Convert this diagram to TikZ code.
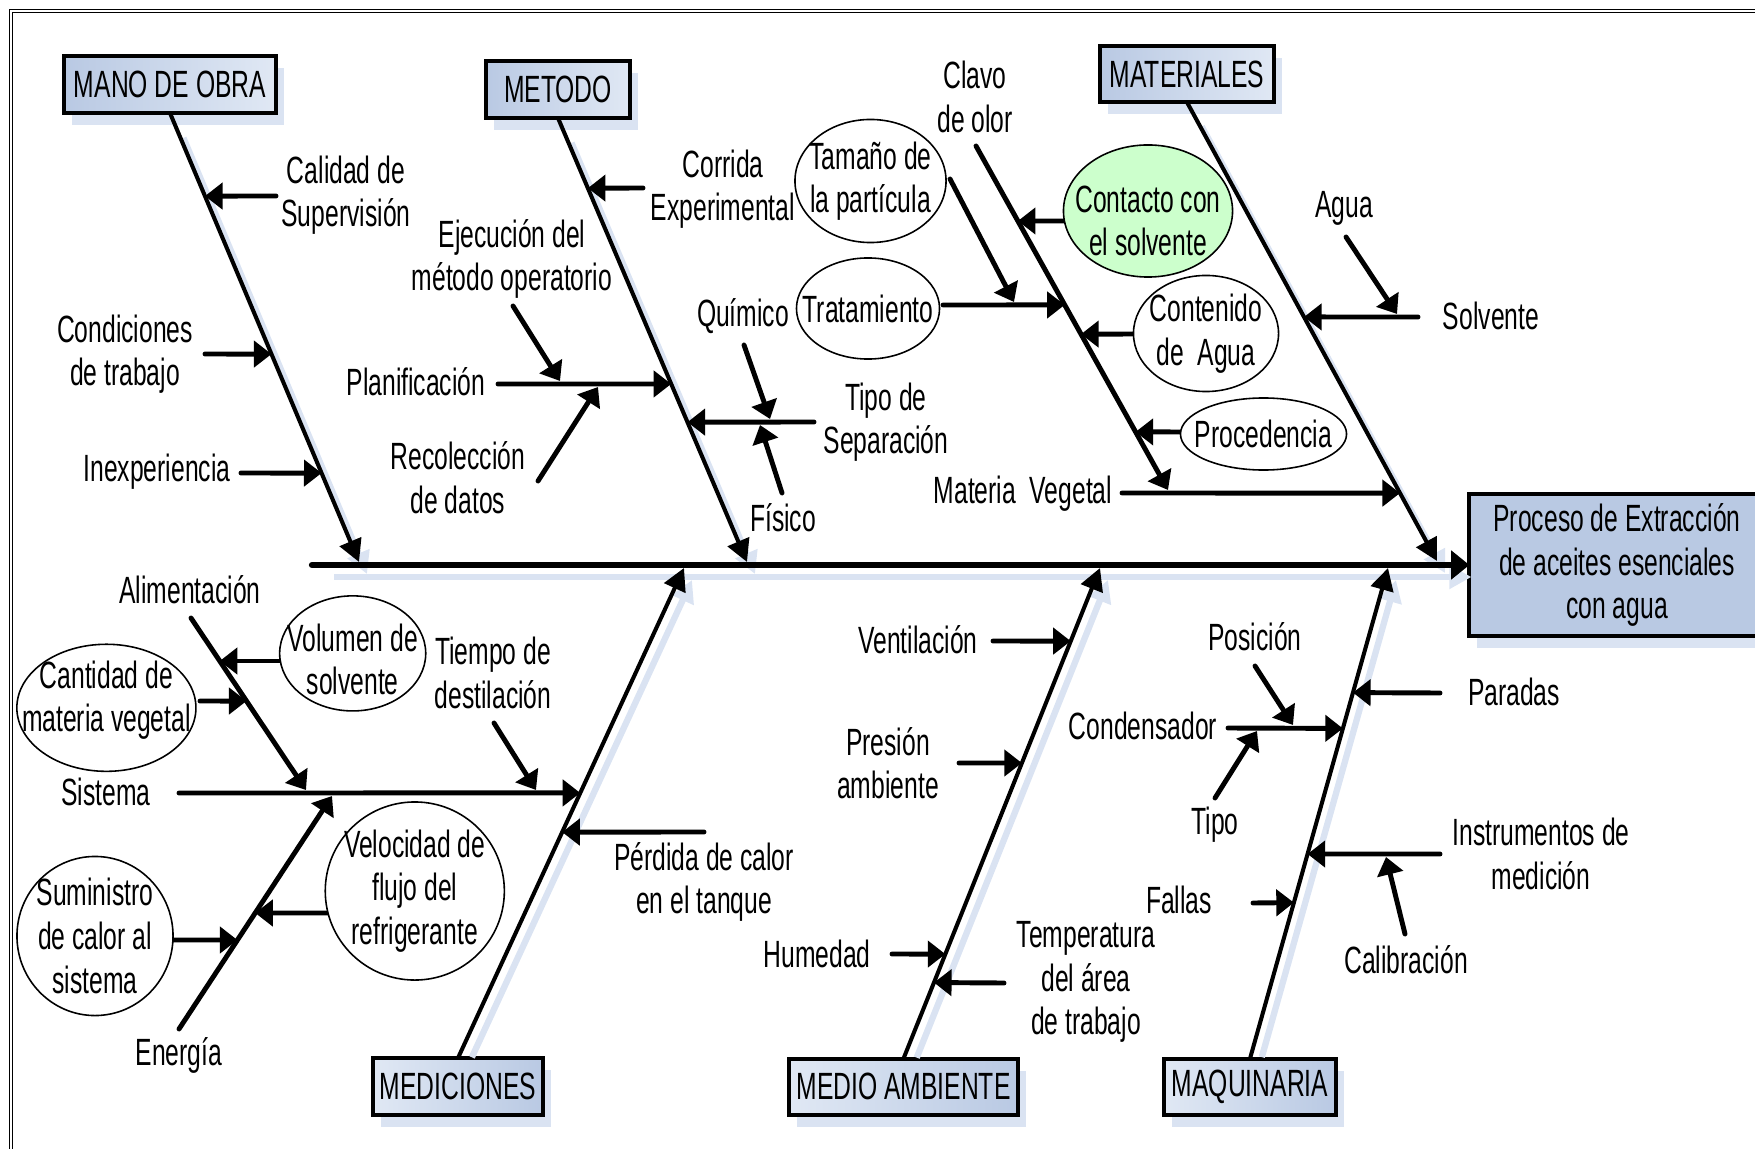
\documentclass[tikz,border=0pt]{standalone}
\usepackage{fontspec}
\setmainfont{Liberation Sans}[FakeStretch=0.65]
\usetikzlibrary{arrows.meta,calc,shapes.geometric,shadows}

\definecolor{boxdark}{RGB}{185,201,227}
\definecolor{boxlight}{RGB}{224,232,244}
\definecolor{shadowblue}{RGB}{218,227,242}
\definecolor{softgreen}{RGB}{204,255,204}

\tikzset{
	txt/.style={font=\fontsize{10.8}{12.4}\selectfont, align=center, inner sep=0pt},
	cat/.style={txt, draw, line width=1.15pt, outer sep=0pt, minimum height=0.565cm,
		drop shadow={shadow xshift=0.08cm, shadow yshift=-0.12cm, fill=shadowblue, opacity=1}},
	cattop/.style={cat, left color=boxdark, right color=boxlight},
	catbot/.style={cat, left color=boxlight, right color=boxdark},
	oval/.style={ellipse, draw, line width=0.45pt, fill=white, inner sep=0pt},
	sub/.style={line width=1.4pt, line cap=round, -{Triangle[length=5pt,width=7.4pt]}},
	bone/.style={line width=1.15pt, -{Triangle[length=6.3pt,width=6.5pt]}},
	bshadow/.style={draw=shadowblue, line width=1.8pt, shorten <=0.14cm, -{Triangle[length=6.3pt,width=6.5pt]}}
}

\begin{document}
\begin{tikzpicture}[x=0.01cm, y=-0.01cm]
		\clip (0,0) rectangle (1755,1149);
		%frame
			\draw[line width=0.5pt] (9.5,9.5) rectangle (1800,1200);
			\draw[line width=0.3pt] (12.8,12.8) rectangle (1800,1200);

		%categories
			\node[cattop, minimum width=2.11cm] (mo) at (170,84.75) {MANO DE OBRA};
			\node[cattop, minimum width=1.44cm] (me) at (558,89.75) {METODO};
			\node[cattop, minimum width=1.745cm] (ma) at (1187,74) {MATERIALES};
			\node[catbot, minimum width=1.69cm] (mc) at (458,1086.25) {MEDICIONES};
			\node[catbot, minimum width=2.28cm] (am) at (903.5,1086.85) {MEDIO AMBIENTE};
			\node[catbot, minimum width=1.72cm] (mq) at (1250,1086.85) {MAQUINARIA};

		%effect
			\node[txt, draw, line width=1.15pt, outer sep=0pt, fill=boxdark,
				minimum width=2.95cm, minimum height=1.42cm,
				drop shadow={shadow xshift=0.08cm, shadow yshift=-0.12cm, fill=shadowblue, opacity=1}]
				(efecto) at (1617,565) {Proceso de Extracción\\de aceites esenciales\\con agua};

		%bone ends
			\coordinate (sp-a) at (312,565);
			\foreach \b/\s/\x/\y in {mo/south/359/562, me/south/747/562, ma/south/1437/561,
					mc/north/684/568, am/north/1100/568, mq/north/1388/568}{
				\coordinate (\b-a) at (\b.\s);
				\coordinate (\b-b) at (\x,\y);
			}

		%arrow tails and joints
			\foreach \n/\x/\y in {
					cal-s/276/196, con-s/205/354, inx-s/241/473, cor-s/643/188,
					pl-a/498/384, eje-s/513/306, eje-e/560/381, rec-s/538/481, rec-e/598/387,
					ts-a/814/422, qui-s/744/345, qui-e/770/419, fis-s/782/493, fis-e/760/425,
					cl-a/976/146, cl-b/1168/490, tr-a/943/305, tam-s/950/179, tam-e/1014/302,
					co-s/1064/221, cn-s/1136/334, pr-s/1184/432, mv-a/1122/493,
					so-a/1418/317, ag-s/1346/237, ag-e/1397/314,
					al-a/191/618, al-b/306/790, vo-s/279/661, ca-s/200/701, si-a/179/793,
					ti-s/494/723, ti-e/536/790, en-a/179/1029, en-b/332/796,
					su-s/167/940, ve-s/333/913, pe-s/704/832,
					vn-s/993/641, ps-s/959/763, hu-s/892/954, te-s/1004/983,
					po-s/1255/666, po-e/1293/725, cd-a/1228/728, tp-s/1215/798, tp-e/1257/731,
					pa-s/1440/693, in-a/1440/854, cb-s/1405/934, cb-e/1386/857, fa-s/1253/903}
				\coordinate (\n) at (\x,\y);

		%shadows
			\foreach \b in {mo,me,ma,mc,am,mq}
				\draw[bshadow] ($(\b-a)+(8,12)$) -- ($(\b-b)+(8,12)$);
			\draw[bshadow] ($(sp-a)+(8,12)$) -- ($(efecto.west)+(2,12)$);

		%bones
			\foreach \b in {mo,me,ma,mc,am,mq}
				\draw[bone] (\b-a) -- (\b-b);
			\draw[line width=1.8pt, line cap=round, -{Triangle[length=5.2pt,width=8pt]}] (sp-a) -- (efecto.west);

		%causes
			\foreach \s/\b/\t in {cal-s/mo/.185, con-s/mo/.537, inx-s/mo/.802,
					cor-s/me/.158, pl-a/me/.599, ts-a/me/.685,
					so-a/ma/.468, mv-a/ma/.852, si-a/mc/.541, pe-s/mc/.461,
					vn-s/am/.851, ps-s/am/.6025, hu-s/am/.213, te-s/am/.155,
					pa-s/mq/.746, cd-a/mq/.673, in-a/mq/.417, fa-s/mq/.318,
					tr-a/cl/.462, co-s/cl/.218, cn-s/cl/.547, pr-s/cl/.831,
					vo-s/al/.25, ca-s/al/.483, su-s/en/.382, ve-s/en/.498}
				\draw[sub] (\s) -- ($(\b-a)!\t!(\b-b)$);
			\foreach \s/\e in {eje-s/eje-e, rec-s/rec-e, qui-s/qui-e, fis-s/fis-e, tam-s/tam-e,
					ag-s/ag-e, ti-s/ti-e, po-s/po-e, tp-s/tp-e, cb-s/cb-e,
					cl-a/cl-b, al-a/al-b, en-a/en-b}
				\draw[sub] (\s) -- (\e);

		%ovals
			\node[oval, minimum width=1.51cm, minimum height=1.23cm] (tam) at (870.5,181) {};
			\node[oval, minimum width=1.43cm, minimum height=1.01cm] (trt) at (868,308.5) {};
			\node[oval, fill=softgreen, minimum width=1.69cm, minimum height=1.32cm] (cto) at (1148,211) {};
			\node[oval, minimum width=1.45cm, minimum height=1.16cm] (cnt) at (1206,333.5) {};
			\node[oval, minimum width=1.66cm, minimum height=0.72cm] (prc) at (1263.5,434) {};
			\node[oval, minimum width=1.46cm, minimum height=1.15cm] (vol) at (352.7,653.4) {};
			\node[oval, minimum width=1.79cm, minimum height=1.27cm] (cmv) at (106.4,707.8) {};
			\node[oval, minimum width=1.56cm, minimum height=1.59cm] (sum) at (95,936) {};
			\node[oval, minimum width=1.79cm, minimum height=1.78cm] (vel) at (414.8,891) {};
			\node[txt] (tam-t) at (tam) {Tamaño de\\la partícula};
			\node[txt] (trt-t) at (trt) {Tratamiento};
			\node[txt] (cto-t) at (1148,221) {Contacto con\\el solvente};
			\node[txt] (cnt-t) at (cnt) {Contenido\\de~~Agua};
			\node[txt] (prc-t) at (prc) {Procedencia};
			\node[txt] (vol-t) at (352.7,659.5) {Volumen de\\solvente};
			\node[txt] (cmv-t) at (106.4,700) {Cantidad de\\materia vegetal};
			\node[txt] (sum-t) at (sum) {Suministro\\de calor al\\sistema};
			\node[txt] (vel-t) at (vel) {Velocidad de\\flujo del\\refrigerante};

		%labels
			\node[txt] (cal) at (346,195) {Calidad de\\Supervisión};
			\node[txt] (cnd) at (125,354) {Condiciones\\de trabajo};
			\node[txt] (inx) at (157,472) {Inexperiencia};
			\node[txt] (cor) at (723,189) {Corrida\\Experimental};
			\node[txt] (eje) at (512,259) {Ejecución del\\método operatorio};
			\node[txt] (pla) at (416,382) {Planificación};
			\node[txt] (rec) at (458,478) {Recolección\\de datos};
			\node[txt] (qui) at (743,316) {Químico};
			\node[txt] (tse) at (886,422) {Tipo de\\Separación};
			\node[txt] (fis) at (783,518) {Físico};
			\node[txt] (clv) at (975,97) {Clavo\\de olor};
			\node[txt] (mvg) at (1023,494) {Materia~~Vegetal};
			\node[txt] (agu) at (1344,208) {Agua};
			\node[txt] (slv) at (1491,316) {Solvente};
			\node[txt] (ali) at (190,590) {Alimentación};
			\node[txt] (sis) at (106,792) {Sistema};
			\node[txt] (tie) at (493,673) {Tiempo de\\destilación};
			\node[txt] (ene) at (179,1055) {Energía};
			\node[txt] (per) at (704,882) {Pérdida de calor\\en el tanque};
			\node[txt] (ven) at (918,640) {Ventilación};
			\node[txt] (pre) at (888,763) {Presión\\ambiente};
			\node[txt] (hum) at (817,954) {Humedad};
			\node[txt] (tem) at (1086,982) {Temperatura\\del área\\de trabajo};
			\node[txt] (pos) at (1255,637) {Posición};
			\node[txt] (cdn) at (1143,726) {Condensador};
			\node[txt] (tip) at (1215,825) {Tipo};
			\node[txt] (par) at (1514,692) {Paradas};
			\node[txt] (ins) at (1541,854) {Instrumentos de\\medición};
			\node[txt] (cbr) at (1406,960) {Calibración};
			\node[txt] (fal) at (1179,900) {Fallas};
		\end{tikzpicture}
\end{document}
